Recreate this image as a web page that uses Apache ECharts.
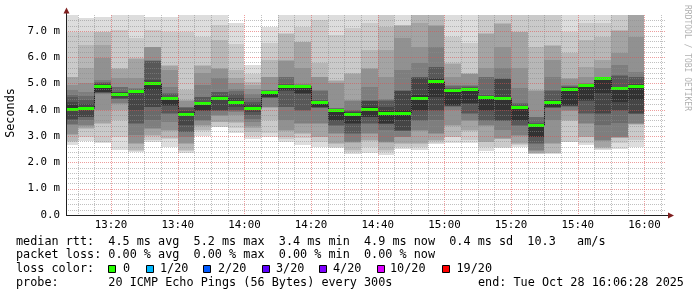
<!DOCTYPE html>
<html>
<head>
<meta charset="utf-8">
<script src="https://cdn.jsdelivr.net/npm/echarts@6.0.0/dist/echarts.min.js"></script>
<style>
html,body{margin:0;padding:0;background:#ffffff;}
#chart{width:697px;height:297px;}
</style>
</head>
<body>
<div id="chart"></div>
<script>
// ---------------- data ----------------
const startTime = '13:06:28';
const endTime = '16:06:28';
const stepMinutes = 5;
const times = ['13:10','13:15','13:20','13:25','13:30','13:35','13:40','13:45','13:50','13:55',
  '14:00','14:05','14:10','14:15','14:20','14:25','14:30','14:35','14:40','14:45',
  '14:50','14:55','15:00','15:05','15:10','15:15','15:20','15:25','15:30','15:35',
  '15:40','15:45','15:50','15:55','16:00'];
const median = [4.04,4.08,4.91,4.60,4.70,5.03,4.45,3.83,4.27,4.46,
  4.30,4.08,4.66,4.91,4.91,4.31,4.00,3.83,4.04,3.87,
  3.88,4.44,5.11,4.75,4.78,4.49,4.46,4.10,3.41,4.31,
  4.80,4.93,5.20,4.82,4.91];
// 20 sorted ping RTTs (ms) per 5-minute step
const smoke = [
  [2.66,2.79,2.81,3.04,3.06,3.42,3.44,3.61,3.63,3.99,4.18,4.31,4.50,4.56,4.75,4.94,5.24,5.26,6.97,7.80],
  [2.81,2.98,3.28,3.30,3.40,3.42,3.61,3.72,3.74,4.02,4.12,4.22,4.37,4.53,4.69,5.01,5.58,6.46,6.97,7.48],
  [2.72,2.79,3.47,3.49,3.99,4.60,4.62,4.64,4.66,4.69,4.93,4.98,5.01,5.05,5.13,5.96,6.46,6.95,6.97,7.54],
  [2.48,2.98,3.61,3.99,4.23,4.25,4.40,4.42,4.44,4.58,4.63,4.66,4.69,4.86,4.88,5.20,5.56,5.58,7.03,7.80],
  [2.41,2.44,2.47,2.71,2.73,3.04,3.47,3.49,3.99,4.63,4.72,4.74,4.76,4.78,4.82,5.20,5.94,5.96,6.72,7.80],
  [2.77,2.85,3.02,3.04,3.28,3.30,3.61,4.10,4.12,4.75,5.07,5.13,5.85,5.87,5.89,6.38,6.39,6.40,7.03,7.54],
  [2.60,2.90,2.92,3.21,3.23,3.55,3.85,3.87,4.16,4.18,4.47,4.50,4.61,4.63,4.88,5.51,5.68,5.70,6.97,7.54],
  [2.36,2.45,2.47,2.71,2.73,2.98,3.15,3.17,3.42,3.78,3.88,3.95,4.08,4.10,4.12,4.35,4.37,4.75,6.97,7.80],
  [3.02,3.21,3.23,3.40,3.42,3.59,3.61,3.95,3.97,3.99,4.29,4.31,4.48,4.50,4.94,5.39,5.68,5.70,6.78,7.80],
  [3.34,3.36,3.53,3.55,3.78,3.80,3.95,3.97,3.99,4.38,4.49,4.53,4.67,4.69,5.20,5.56,5.58,6.65,7.22,7.80],
  [3.13,3.30,3.50,3.55,3.80,3.92,3.95,4.00,4.10,4.25,4.35,4.45,4.60,4.72,4.80,5.00,5.20,5.50,6.50,7.30],
  [2.89,3.00,3.15,3.30,3.40,3.55,3.65,3.80,3.90,4.02,4.12,4.20,4.30,4.45,4.60,4.80,4.95,5.05,5.35,5.70],
  [2.98,3.10,3.61,4.08,4.10,4.12,4.44,4.46,4.48,4.50,4.68,4.69,4.72,4.74,4.75,5.24,5.26,5.89,6.53,7.16],
  [2.79,2.90,2.98,3.21,3.23,3.61,4.10,4.12,4.73,4.75,4.93,4.94,4.96,5.24,5.26,5.87,5.89,6.89,6.91,7.80],
  [2.66,2.92,3.08,3.10,3.47,3.49,3.97,3.99,4.61,4.63,4.92,4.93,4.94,4.95,4.96,5.58,6.57,6.59,7.16,7.80],
  [2.60,2.79,2.96,2.98,3.47,3.49,4.06,4.08,4.10,4.12,4.33,4.35,4.37,4.73,4.75,5.24,5.26,5.77,7.41,7.80],
  [2.55,2.60,2.71,2.73,3.08,3.10,3.40,3.42,3.59,3.61,4.02,4.03,4.04,4.05,4.06,5.01,5.11,5.13,6.84,7.80],
  [2.31,2.40,2.47,2.75,2.77,2.79,3.08,3.10,3.47,3.49,3.86,3.90,3.95,3.99,4.35,4.37,5.37,5.39,7.10,7.80],
  [2.35,2.60,2.83,2.85,3.08,3.10,3.47,3.49,3.72,3.74,4.10,4.33,4.35,4.37,4.88,5.56,5.58,6.27,7.29,7.80],
  [2.28,2.40,2.47,2.75,2.77,2.79,3.23,3.45,3.47,3.49,3.95,4.10,4.35,4.37,4.39,5.26,6.27,7.16,7.80,7.80],
  [2.50,2.60,2.71,2.73,2.96,2.98,3.19,3.21,3.23,3.61,3.99,4.71,4.73,4.75,5.51,6.72,7.20,7.21,7.22,7.80],
  [2.47,2.60,2.71,2.73,3.21,3.23,3.59,3.61,3.97,3.99,4.56,5.22,5.24,5.26,5.77,6.40,7.29,7.80,7.80,7.80],
  [2.70,2.72,2.83,2.85,3.08,3.10,3.61,3.97,3.99,4.50,5.15,5.20,5.62,5.64,6.40,7.20,7.22,7.80,7.80,7.80],
  [2.75,2.96,2.98,3.40,3.42,3.99,4.12,4.14,4.16,4.18,4.78,4.80,4.82,4.92,4.94,5.26,5.75,5.77,6.78,7.80],
  [2.72,2.85,3.21,3.23,3.59,3.61,3.85,3.87,4.23,4.25,4.80,4.83,4.86,4.90,4.94,5.35,5.37,5.39,6.53,7.80],
  [2.45,2.60,2.77,2.79,3.40,3.42,3.59,3.61,3.97,3.99,4.52,4.54,4.56,5.24,5.26,5.58,6.89,6.91,7.80,7.80],
  [2.56,2.60,2.88,2.90,2.92,3.23,3.57,3.59,3.61,3.99,4.50,5.16,5.18,5.20,5.58,6.40,7.27,7.29,7.80,7.80],
  [2.60,2.66,2.71,2.73,3.02,3.04,3.40,3.42,3.59,3.61,4.13,4.16,4.20,4.25,4.82,5.58,6.95,6.97,7.80,7.80],
  [2.32,2.33,2.34,2.35,2.45,2.47,2.71,2.73,2.96,2.98,3.45,3.47,3.49,3.72,3.74,4.73,4.75,6.40,7.80,7.80],
  [2.32,2.34,2.35,2.71,2.73,3.61,4.06,4.08,4.10,4.12,4.34,4.37,4.73,4.75,5.26,5.89,6.44,6.46,7.80,7.80],
  [2.77,2.79,3.59,3.61,3.97,3.99,4.12,4.14,4.16,4.18,4.83,4.85,4.87,4.90,4.94,5.18,5.20,6.15,6.97,7.80],
  [2.66,2.73,2.96,2.98,3.47,3.49,3.85,3.87,4.35,4.37,4.95,4.96,4.97,4.99,5.01,5.26,5.64,6.65,7.29,7.80],
  [2.47,2.50,2.55,2.60,2.83,2.85,3.42,3.85,3.87,4.63,5.21,5.22,5.23,5.24,5.26,5.58,5.89,6.78,7.29,7.80],
  [2.49,2.73,2.92,2.94,2.96,2.98,3.49,3.97,3.99,4.31,4.86,4.88,5.30,5.32,5.70,6.15,7.01,7.03,7.80,7.80],
  [2.60,2.85,3.43,3.45,3.47,3.49,3.83,3.85,3.87,4.37,4.95,4.98,5.24,5.26,5.45,6.78,7.80,7.80,7.80,7.80]
];
const xTickLabels = ['13:20','13:40','14:00','14:20','14:40','15:00','15:20','15:40','16:00'];
const yTickLabels = ['0.0','1.0 m','2.0 m','3.0 m','4.0 m','5.0 m','6.0 m','7.0 m'];
const yMax = 7.6;
const rttValues = ['4.5','5.2','3.4','4.9','0.4','10.3'];
const lossValues = ['0.00','0.00','0.00','0.00'];
const lossLabels = ['0','1/20','2/20','3/20','4/20','10/20','19/20'];
const lossColors = ['#26ff00','#00b8ff','#0059ff','#5e00ff','#7e00ff','#dd00ff','#ff0000'];
const probeText = '20 ICMP Echo Pings (56 Bytes) every 300s';
const endText = 'Tue Oct 28 16:06:28 2025';

// ---------------- helpers ----------------
function toMin(s) {
  const p = s.split(':').map(Number);
  return p[0] * 60 + p[1] + (p[2] || 0) / 60;
}
const xMin = toMin(startTime);
const xMax = toMin(endTime);
const xTicks = xTickLabels.map(toMin);

const MONO = '"DejaVu Sans Mono", monospace';
const minorColor = 'rgba(140,140,140,0.55)';
const majorColor = 'rgba(222,79,79,0.55)';

// grid line positions
const gridLines = [];
for (let v = Math.ceil(xMin / stepMinutes) * stepMinutes; v < xMax; v += stepMinutes) {
  gridLines.push({dir: 'v', v: v, major: v % 20 === 0});
}
for (let j = 1; j * 0.2 < yMax - 0.1; j++) {
  gridLines.push({dir: 'h', v: Math.round(j * 2) / 10, major: j % 5 === 0});
}

function colRange(api, k) {
  const t = toMin(times[k]);
  const xa = Math.round(api.coord([Math.max(t - stepMinutes, xMin), 0])[0]);
  const xb = Math.round(api.coord([t, 0])[0]);
  return [t, xa, xb];
}

function renderSmoke(params, api) {
  const k = params.dataIndex;
  const [t, xa, xb] = colRange(api, k);
  const p = smoke[k];
  const n = p.length, half = n / 2;
  const children = [];
  for (let i = 1; i <= half; i++) {
    const lo = Math.min(p[i - 1], yMax);
    const hi = Math.min(p[n - i], yMax);
    const ya = Math.round(api.coord([t, hi])[1]);
    const yb = Math.round(api.coord([t, lo])[1]);
    const g = Math.floor(190 / half * (half - i)) + 50;
    children.push({
      type: 'rect',
      shape: {x: xa, y: ya, width: xb - xa, height: Math.max(0, yb - ya)},
      style: {fill: 'rgb(' + g + ',' + g + ',' + g + ')'}
    });
  }
  return {type: 'group', children: children};
}

function renderMedian(params, api) {
  const k = params.dataIndex;
  const [t, xa, xb] = colRange(api, k);
  const y = Math.round(api.coord([t, median[k]])[1]);
  const children = [];
  if (k > 0) {
    const yp = Math.round(api.coord([t, median[k - 1]])[1]);
    children.push({type: 'line', shape: {x1: xa + 0.5, y1: yp + 0.5, x2: xa + 0.5, y2: y + 0.5},
      style: {stroke: '#202020', lineWidth: 1}});
  }
  children.push({type: 'rect', shape: {x: xa, y: y - 1, width: xb - xa, height: 3},
    style: {fill: lossColors[0]}});
  return {type: 'group', children: children};
}

function renderGrid(params, api) {
  const cs = params.coordSys;
  const d = gridLines[params.dataIndex];
  const style = {stroke: d.major ? majorColor : minorColor, lineWidth: 1, lineDash: [1, 1]};
  if (d.dir === 'v') {
    const x = Math.round(api.coord([d.v, 0])[0]) + 0.5;
    return {type: 'line', shape: {x1: x, y1: cs.y, x2: x, y2: cs.y + cs.height}, style: style};
  }
  const y = Math.round(api.coord([xMin, d.v])[1]) + 0.5;
  return {type: 'line', shape: {x1: cs.x, y1: y, x2: cs.x + cs.width, y2: y}, style: style};
}

// ---------------- layout ----------------
const plotLeft = 66, plotTop = 15, plotW = 600, plotH = 200;
const axisY = plotTop + plotH + 0.5, axisX = plotLeft + 0.5;

const legendFont = '11.8px ' + MONO;
function txt(text, x, y, extra) {
  return Object.assign({type: 'text', z: 110, x: x, y: y,
    style: {text: text, font: legendFont, fill: '#000', textAlign: 'left', textVerticalAlign: 'middle',
      align: 'left', verticalAlign: 'middle'}}, extra || {});
}

const line1 = 'median rtt:  ' + rttValues[0] + ' ms avg  ' + rttValues[1] + ' ms max  ' + rttValues[2] +
  ' ms min  ' + rttValues[3] + ' ms now  ' + rttValues[4] + ' ms sd  ' + rttValues[5] + '   am/s';
const line2 = 'packet loss: ' + lossValues[0] + ' % avg  ' + lossValues[1] + ' % max  ' + lossValues[2] +
  ' % min  ' + lossValues[3] + ' % now';
const boxX = [108, 146, 203, 262, 319, 377, 442];
const boxLabelX = [123, 160, 218, 276, 333, 390, 456.5];

const graphics = [
  // axes
  {type: 'line', z: 100, shape: {x1: axisX, y1: axisY, x2: axisX, y2: plotTop - 2}, style: {stroke: '#202020', lineWidth: 1}},
  {type: 'polygon', z: 101, shape: {points: [[axisX - 3, plotTop - 1.5], [axisX + 3, plotTop - 1.5], [axisX, plotTop - 7.5]]}, style: {fill: '#7f1f1f'}},
  {type: 'line', z: 100, shape: {x1: plotLeft, y1: axisY, x2: plotLeft + plotW + 2, y2: axisY}, style: {stroke: '#202020', lineWidth: 1}},
  {type: 'polygon', z: 101, shape: {points: [[plotLeft + plotW + 2, axisY - 3], [plotLeft + plotW + 2, axisY + 3], [plotLeft + plotW + 8, axisY]]}, style: {fill: '#7f1f1f'}},
  // unit + watermark
  {type: 'text', z: 110, x: 11, y: 113, rotation: Math.PI / 2,
    style: {text: 'Seconds', font: legendFont, fill: '#000', textAlign: 'center', textVerticalAlign: 'middle', align: 'center', verticalAlign: 'middle'}},
  {type: 'text', z: 110, x: 687.5, y: 5, rotation: -Math.PI / 2,
    style: {text: 'RRDTOOL / TOBI OETIKER', font: '8px ' + MONO, fill: 'rgba(0,0,0,0.33)', textAlign: 'left', textVerticalAlign: 'middle', align: 'left', verticalAlign: 'middle'}},
  // legend
  txt(line1, 16, 241.5),
  txt(line2, 16, 255.2),
  txt('loss color:', 16, 268.9),
  txt('probe:       ' + probeText, 16, 282.6),
  txt('end: ' + endText, 478, 282.6)
];
lossLabels.forEach(function (lab, i) {
  graphics.push({type: 'rect', z: 110, shape: {x: boxX[i] + 0.5, y: 265.5, width: 7, height: 7},
    style: {fill: lossColors[i], stroke: '#000', lineWidth: 1}});
  graphics.push(txt(lab, boxLabelX[i], 268.9));
});

const chart = echarts.init(document.getElementById('chart'), null, {renderer: 'canvas'});
chart.setOption({
  animation: false,
  backgroundColor: '#ffffff',
  grid: {left: plotLeft, top: plotTop, width: plotW, height: plotH, containLabel: false},
  xAxis: {
    type: 'value', min: xMin, max: xMax,
    axisLine: {show: false}, axisTick: {show: false}, splitLine: {show: false},
    axisLabel: {
      customValues: xTicks,
      formatter: function (v) {
        for (let i = 0; i < xTicks.length; i++) if (Math.abs(xTicks[i] - v) < 1e-6) return xTickLabels[i];
        return '';
      },
      fontFamily: 'DejaVu Sans Mono', fontSize: 10.8, color: '#000', margin: 5
    }
  },
  yAxis: {
    type: 'value', min: 0, max: yMax, interval: 1,
    axisLine: {show: false}, axisTick: {show: false}, splitLine: {show: false},
    axisLabel: {
      formatter: function (v) {
        const r = Math.round(v);
        if (Math.abs(v - r) > 1e-6 || r < 0 || r >= yTickLabels.length) return '';
        return yTickLabels[r];
      },
      fontFamily: 'DejaVu Sans Mono', fontSize: 10.8, color: '#000', margin: 6
    }
  },
  series: [
    {type: 'custom', name: 'smoke', silent: true, clip: true, z: 1, renderItem: renderSmoke,
      data: times.map(function (t, i) { return [toMin(t), median[i]]; })},
    {type: 'custom', name: 'median', silent: true, clip: true, z: 2, renderItem: renderMedian,
      data: times.map(function (t, i) { return [toMin(t), median[i]]; })},
    {type: 'custom', name: 'grid', silent: true, clip: false, z: 3, renderItem: renderGrid,
      data: gridLines.map(function (g) { return g.dir === 'v' ? [g.v, 0] : [xMin, g.v]; })}
  ],
  graphic: graphics
});
</script>
</body>
</html>
